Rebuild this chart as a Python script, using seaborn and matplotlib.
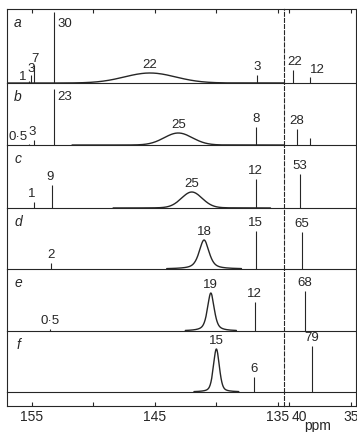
import numpy as np
import pandas as pd
import seaborn as sns
import matplotlib.pyplot as plt
from matplotlib.transforms import ScaledTranslation

panel_names = ['a', 'b', 'c', 'd', 'e', 'f']

# sharp lines per spectrum: shift (ppm), drawn height, printed value
a_ppm = [155.24, 155.04, 154.8, 153.21, 136.71, 39.68, 38.31]
a_height = [2, 8, 18, 71, 8, 13, 6]
a_text = ['1', '3', '7', '30', '3', '22', '12']

b_ppm = [155.24, 154.84, 153.21, 136.79, 39.35, 38.31]
b_height = [1.5, 5, 56, 18, 16, 7]
b_text = ['0·5', '3', '23', '8', '28', '']

c_ppm = [154.84, 153.37, 136.79, 39.11]
c_height = [6, 23, 29, 34]
c_text = ['1', '9', '12', '53']

d_ppm = [153.46, 136.79, 38.95]
d_height = [6, 38, 37]
d_text = ['2', '15', '65']

e_ppm = [153.54, 136.87, 38.71]
e_height = [2, 29, 40]
e_text = ['0·5', '12', '68']

f_ppm = [136.95, 38.15]
f_height = [15, 46]
f_text = ['6', '79']

# broad band around 140-145 ppm
band_ppm = [145.4, 143.1, 142.0, 141.0, 140.45, 140.0]
band_height = [10, 12, 16, 29, 38, 43]
band_fwhm = [4.9, 2.7, 2.0, 0.95, 0.65, 0.57]
band_lorentz = [0.0, 0.0, 0.1, 0.6, 0.6, 0.4]
band_text = ['22', '25', '25', '18', '19', '15']

left_ticks = [155, 150, 145, 140, 135]
left_ticklabels = ['155', '', '145', '', '135']
right_ticks = [40, 35]
right_ticklabels = ['40', '35']

sticks = {'a': (a_ppm, a_height, a_text), 'b': (b_ppm, b_height, b_text),
          'c': (c_ppm, c_height, c_text), 'd': (d_ppm, d_height, d_text),
          'e': (e_ppm, e_height, e_text), 'f': (f_ppm, f_height, f_text)}

# label nudges in pixels: (dx, dy, ha, va)
nudge = {('a', 0): (-6, -2, 'center', 'bottom'), ('a', 1): (0, 0, 'center', 'bottom'),
         ('a', 2): (1, 0, 'center', 'bottom'), ('a', 3): (3, -6, 'left', 'top'),
         ('a', 5): (2, 2, 'center', 'bottom'), ('a', 6): (0, 1, 'left', 'bottom'),
         ('b', 0): (-1, 0, 'right', 'bottom'), ('b', 1): (-2, 2, 'center', 'bottom'),
         ('b', 2): (3, -2, 'left', 'top'), ('c', 0): (-2, 2, 'center', 'bottom'),
         ('c', 1): (-2, 2, 'center', 'bottom')}

sns.set_theme(style='white')
plt.rcParams['font.family'] = ['Liberation Sans', 'DejaVu Sans']
ink = '#262626'
px = 0.72  # points per pixel at 100 dpi

fig = plt.figure(figsize=(3.57, 4.32), dpi=100)
fig.patch.set_facecolor('white')
gs = fig.add_gridspec(7, 2, width_ratios=[277, 72],
                      height_ratios=[74, 62, 63, 61, 62, 61, 14],
                      left=7 / 357, right=356 / 357, top=1 - 9 / 432, bottom=1 - 406 / 432,
                      hspace=0, wspace=0)
row_px = [74, 62, 63, 61, 62, 61, 14]

for r in range(7):
    axl = fig.add_subplot(gs[r, 0])
    axr = fig.add_subplot(gs[r, 1])
    axl.set_xlim(157.03, 134.5)
    axr.set_xlim(40.4, 34.57)
    for ax in (axl, axr):
        ax.set_ylim(0, row_px[r])
        ax.patch.set_visible(False)
        ax.tick_params(left=False, bottom=False, labelleft=False, labelbottom=False)
        ax.set_xticks([])
        ax.set_yticks([])
        for s in ax.spines.values():
            s.set_color(ink)
            s.set_linewidth(0.8)
        if r > 0:
            ax.spines['top'].set_visible(False)
    axl.spines['right'].set_linestyle((0, (3.5, 2)))
    axr.spines['left'].set_visible(False)

    if r == 0:
        axl.set_xticks(left_ticks)
        axr.set_xticks(right_ticks)
        for ax in (axl, axr):
            ax.tick_params(top=True, bottom=False, direction='in', length=3,
                           width=0.8, color=ink, labeltop=False, labelbottom=False)
    if r == 6:
        axl.set_xticks(left_ticks, left_ticklabels)
        axr.set_xticks(right_ticks, right_ticklabels)
        for ax in (axl, axr):
            ax.tick_params(bottom=True, direction='in', length=3, width=0.8, color=ink,
                           labelbottom=True, labelsize=10, pad=3, labelcolor=ink)
        lab40 = axr.get_xticklabels()[0]
        lab40.set_ha('left')
        lab40.set_transform(lab40.get_transform() + ScaledTranslation(3 / 100, 0, fig.dpi_scale_trans))
        axr.set_xlabel('ppm', fontsize=10, color=ink, labelpad=0)
        axr.xaxis.set_label_coords(0.47, -0.9)
        continue

    name = panel_names[r]
    # broad band
    c, h, w, eta = band_ppm[r], band_height[r], band_fwhm[r], band_lorentz[r]
    xs = np.linspace(c - 3.2 * w, c + 3.2 * w, 400)
    gauss = np.exp(-4 * np.log(2) * (xs - c) ** 2 / w ** 2)
    lor = 1 / (1 + 4 * (xs - c) ** 2 / w ** 2)
    band = pd.DataFrame({'ppm': xs, 'y': h * ((1 - eta) * gauss + eta * lor)})
    sns.lineplot(data=band, x='ppm', y='y', ax=axl, color=ink, lw=1.0, sort=False)
    axl.annotate(band_text[r], (c, h), xytext=(0, 2 * px), textcoords='offset points',
                 ha='center', va='bottom', fontsize=9.5, color=ink)

    # sharp lines
    ppm, hts, txt = sticks[name]
    for i, (p, hh, t) in enumerate(zip(ppm, hts, txt)):
        ax = axl if p > 100 else axr
        ax.vlines(p, 0, hh, color=ink, lw=0.8)
        if t:
            dx, dy, ha, va = nudge.get((name, i), (0, 2, 'center', 'bottom'))
            ax.annotate(t, (p, hh), xytext=(dx * px, dy * px), textcoords='offset points',
                        ha=ha, va=va, fontsize=9.5, color=ink)

    for ax in (axl, axr):
        ax.set_xlabel('')
        ax.set_ylabel('')
        ax.set_ylim(0, row_px[r])
    axl.annotate(name, (0, 1), xycoords='axes fraction', xytext=(11 * px, -14 * px),
                 textcoords='offset points', ha='center', va='center',
                 fontsize=10, style='italic', color=ink)

fig.savefig('out.png', dpi=100)
